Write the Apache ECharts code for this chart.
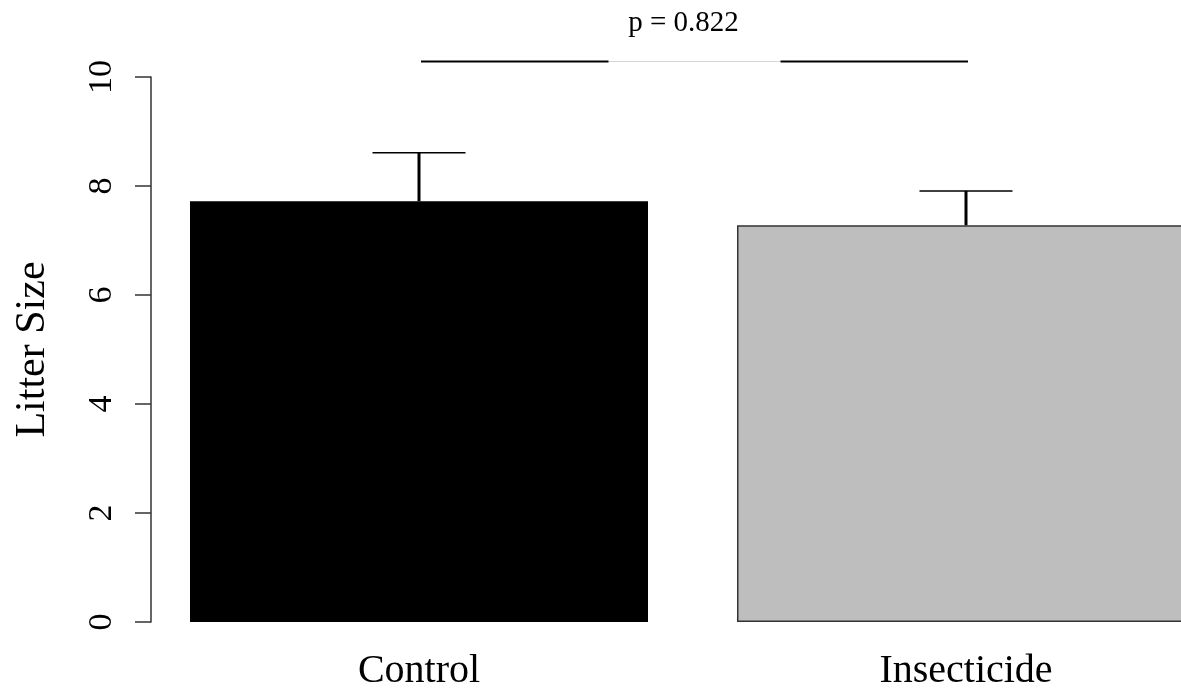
<!DOCTYPE html>
<html>
<head>
<meta charset="utf-8">
<script src="https://cdn.jsdelivr.net/npm/echarts@6/dist/echarts.min.js"></script>
<style>
html,body{margin:0;padding:0;background:#fff;}
#chart{width:1181px;height:690px;}
</style>
</head>
<body>
<div id="chart"></div>
<script>
// ---- data ----
const categories = ['Control', 'Insecticide'];
const means = [7.72, 7.28];
const upperErr = [8.61, 7.91];
const barColors = ['#000000', '#bebebe'];
const yTicks = [0, 2, 4, 6, 8, 10];
const pLabel = 'p = 0.822';
const bracketLevel = 10.29;

const FONT = '"Liberation Serif", "Times New Roman", serif';

const chart = echarts.init(document.getElementById('chart'), null, {renderer: 'canvas'});

const barData = means.map((v, i) => ({
  value: v,
  itemStyle: {
    color: barColors[i],
    borderColor: i === 0 ? '#000' : '#333',
    borderWidth: 1.5
  }
}));

const errData = means.map((v, i) => [i, v, upperErr[i]]);

const option = {
  animation: false,
  backgroundColor: '#ffffff',
  grid: {left: 145.5, top: 77, height: 545, width: 1094, containLabel: false, outerBoundsMode: 'none'},
  xAxis: {
    type: 'category',
    data: categories,
    axisLine: {show: false},
    axisTick: {show: false},
    axisLabel: {
      color: '#000', fontFamily: FONT, fontSize: 40, margin: 29
    }
  },
  yAxis: {
    type: 'value',
    min: yTicks[0], max: yTicks[yTicks.length - 1], interval: 2,
    offset: -5.5,
    name: 'Litter Size',
    nameLocation: 'middle',
    nameGap: 97,
    nameTextStyle: {color: '#000', fontFamily: FONT, fontSize: 42},
    axisLine: {show: true, lineStyle: {color: '#333', width: 1.5}},
    axisTick: {show: true, length: 16, lineStyle: {color: '#333', width: 1.5}},
    splitLine: {show: false},
    axisLabel: {
      rotate: 90, color: '#000', fontFamily: FONT, fontSize: 34, margin: 32
    }
  },
  series: [
    {
      type: 'bar',
      data: barData,
      barWidth: 458,
      z: 2
    },
    {
      type: 'custom',
      data: errData,
      z: 5,
      renderItem: function (params, api) {
        const x = api.value(0);
        const p0 = api.coord([x, api.value(1)]);
        const p1 = api.coord([x, api.value(2)]);
        const hw = 46.5;
        return {
          type: 'group',
          children: [
            {type: 'line', shape: {x1: p0[0], y1: p0[1], x2: p1[0], y2: p1[1]},
             style: {stroke: '#000', lineWidth: 3}},
            {type: 'line', shape: {x1: p1[0] - hw, y1: p1[1], x2: p1[0] + hw, y2: p1[1]},
             style: {stroke: '#000', lineWidth: 1.5}}
          ]
        };
      }
    },
    {
      type: 'custom',
      data: [[0, 1, bracketLevel]],
      z: 6,
      clip: false,
      renderItem: function (params, api) {
        const a = api.coord([api.value(0), api.value(2)]);
        const b = api.coord([api.value(1), api.value(2)]);
        const x1 = a[0] + 2, x2 = b[0] + 2, y = Math.round(a[1]) + 0.5;
        const mid = (x1 + x2) / 2;
        const gap = 86;
        return {
          type: 'group',
          children: [
            {type: 'line', shape: {x1: mid - gap, y1: y, x2: mid + gap, y2: y},
             style: {stroke: '#d6d6d6', lineWidth: 1}},
            {type: 'line', shape: {x1: x1, y1: y, x2: mid - gap, y2: y},
             style: {stroke: '#000', lineWidth: 2}},
            {type: 'line', shape: {x1: mid + gap, y1: y, x2: x2, y2: y},
             style: {stroke: '#000', lineWidth: 2}},
            {type: 'text', style: {
              text: pLabel, x: mid - 11, y: y - 38,
              fill: '#000', font: '29px ' + FONT,
              textAlign: 'center', textVerticalAlign: 'middle'
            }}
          ]
        };
      }
    }
  ]
};
chart.setOption(option);
</script>
</body>
</html>
